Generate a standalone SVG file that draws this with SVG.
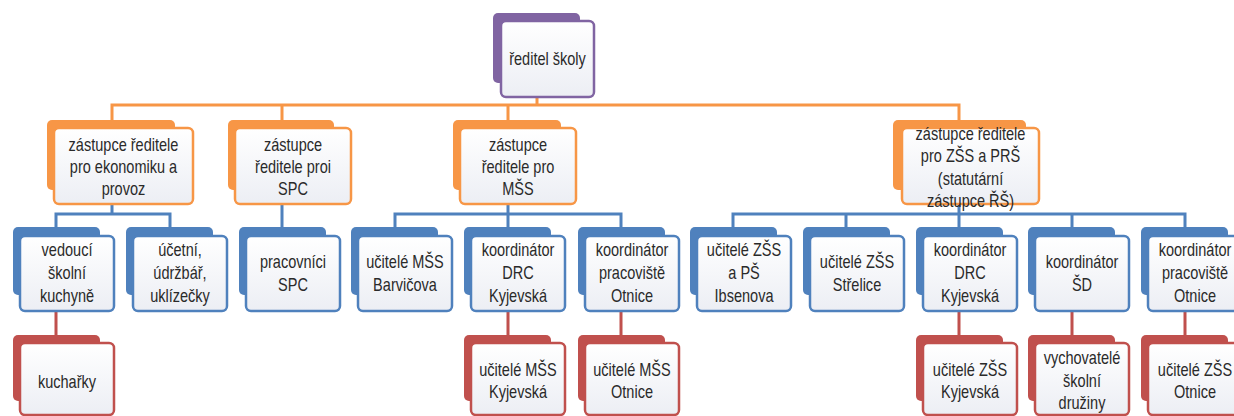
<svg xmlns="http://www.w3.org/2000/svg" width="1234" height="416" viewBox="0 0 1234 416">
<style>
.fr{stroke-width:2.5;fill:url(#g)}
.bk{stroke:none}
.pu{stroke:#8064A2}.puf{fill:#8064A2}
.or{stroke:#F79646}.orf{fill:#F79646}
.bl{stroke:#4F81BD}.blf{fill:#4F81BD}
.rd{stroke:#C0504D}.rdf{fill:#C0504D}
text{font-family:"Liberation Sans",Arial,sans-serif;font-size:17.5px;fill:#2a2a2a;text-anchor:middle}
.c{fill:none;stroke-width:3}
</style>
<defs>
<linearGradient id="g" x1="0" y1="0" x2="0" y2="1"><stop offset="0" stop-color="#ffffff"/><stop offset="1" stop-color="#eceef4"/></linearGradient>
</defs>
<g id="connectors">
<path class="c" stroke="#F79646" d="M537,97V105M112,120V105H959V120M282,105V120M508,105V120"/>
<path class="c" stroke="#4F81BD" d="M112,204V214M56,227V214H170V227M282,204V227M508,204V214M395,227V214H621V227M508,214V227M959,204V214M733,227V214H1185V227M846,214V227M959,214V227M1072,214V227"/>
<path class="c" stroke="#C0504D" d="M56,311V335M508,311V335M621,311V335M959,311V335M1072,311V335M1185,311V335"/>
</g>
<g id="n-top"><rect class="bk puf" x="493" y="13" width="87" height="70" rx="5"/><rect class="fr pu" x="501" y="21" width="93" height="76" rx="5"/><text transform="translate(547.5 0) scale(.83 1)" y="65">ředitel školy</text></g>
<g id="n-ekon"><rect class="bk orf" x="47" y="120" width="128" height="70" rx="5"/><rect class="fr or" x="54" y="128" width="139" height="76" rx="5"/><text transform="translate(123.5 0) scale(.83 1)" y="151">zástupce ředitele</text><text transform="translate(123.5 0) scale(.83 1)" y="173">pro ekonomiku a</text><text transform="translate(123.5 0) scale(.83 1)" y="195">provoz</text></g>
<g id="n-spc"><rect class="bk orf" x="228" y="120" width="106" height="70" rx="5"/><rect class="fr or" x="235" y="128" width="116" height="76" rx="5"/><text transform="translate(293 0) scale(.83 1)" y="151">zástupce</text><text transform="translate(293 0) scale(.83 1)" y="173">ředitele proi</text><text transform="translate(293 0) scale(.83 1)" y="195">SPC</text></g>
<g id="n-mss"><rect class="bk orf" x="453" y="120" width="108" height="70" rx="5"/><rect class="fr or" x="460" y="128" width="116" height="76" rx="5"/><text transform="translate(518 0) scale(.83 1)" y="151">zástupce</text><text transform="translate(518 0) scale(.83 1)" y="173">ředitele pro</text><text transform="translate(518 0) scale(.83 1)" y="195">MŠS</text></g>
<g id="n-zss"><rect class="bk orf" x="893" y="120" width="133" height="70" rx="5"/><rect class="fr or" x="902" y="128" width="137" height="76" rx="5"/><text transform="translate(970.5 0) scale(.83 1)" y="140">zástupce ředitele</text><text transform="translate(970.5 0) scale(.83 1)" y="162">pro ZŠS a PRŠ</text><text transform="translate(970.5 0) scale(.83 1)" y="185">(statutární</text><text transform="translate(970.5 0) scale(.83 1)" y="207">zástupce ŘŠ)</text></g>
<g id="n-kuch"><rect class="bk blf" x="13" y="227" width="87" height="68" rx="5"/><rect class="fr bl" x="20" y="236" width="94" height="75" rx="5"/><text transform="translate(67 0) scale(.83 1)" y="256">vedoucí</text><text transform="translate(67 0) scale(.83 1)" y="279">školní</text><text transform="translate(67 0) scale(.83 1)" y="302">kuchyně</text></g>
<g id="n-ucet"><rect class="bk blf" x="126" y="227" width="87" height="68" rx="5"/><rect class="fr bl" x="133" y="236" width="94" height="75" rx="5"/><text transform="translate(180 0) scale(.83 1)" y="256">účetní,</text><text transform="translate(180 0) scale(.83 1)" y="279">údržbář,</text><text transform="translate(180 0) scale(.83 1)" y="302">uklízečky</text></g>
<g id="n-pspc"><rect class="bk blf" x="239" y="227" width="87" height="68" rx="5"/><rect class="fr bl" x="246" y="236" width="94" height="75" rx="5"/><text transform="translate(293 0) scale(.83 1)" y="268">pracovníci</text><text transform="translate(293 0) scale(.83 1)" y="291">SPC</text></g>
<g id="n-barv"><rect class="bk blf" x="351" y="227" width="87" height="68" rx="5"/><rect class="fr bl" x="358" y="236" width="94" height="75" rx="5"/><text transform="translate(405 0) scale(.83 1)" y="268">učitelé MŠS</text><text transform="translate(405 0) scale(.83 1)" y="291">Barvičova</text></g>
<g id="n-drc1"><rect class="bk blf" x="464" y="227" width="87" height="68" rx="5"/><rect class="fr bl" x="471" y="236" width="94" height="75" rx="5"/><text transform="translate(518 0) scale(.83 1)" y="256">koordinátor</text><text transform="translate(518 0) scale(.83 1)" y="279">DRC</text><text transform="translate(518 0) scale(.83 1)" y="302">Kyjevská</text></g>
<g id="n-otn1"><rect class="bk blf" x="578" y="227" width="87" height="68" rx="5"/><rect class="fr bl" x="585" y="236" width="94" height="75" rx="5"/><text transform="translate(632 0) scale(.83 1)" y="256">koordinátor</text><text transform="translate(632 0) scale(.83 1)" y="279">pracoviště</text><text transform="translate(632 0) scale(.83 1)" y="302">Otnice</text></g>
<g id="n-ibs"><rect class="bk blf" x="690" y="227" width="87" height="68" rx="5"/><rect class="fr bl" x="697" y="236" width="94" height="75" rx="5"/><text transform="translate(744 0) scale(.83 1)" y="256">učitelé ZŠS</text><text transform="translate(744 0) scale(.83 1)" y="279">a PŠ</text><text transform="translate(744 0) scale(.83 1)" y="302">Ibsenova</text></g>
<g id="n-stre"><rect class="bk blf" x="803" y="227" width="87" height="68" rx="5"/><rect class="fr bl" x="810" y="236" width="94" height="75" rx="5"/><text transform="translate(857 0) scale(.83 1)" y="268">učitelé ZŠS</text><text transform="translate(857 0) scale(.83 1)" y="291">Střelice</text></g>
<g id="n-drc2"><rect class="bk blf" x="916" y="227" width="87" height="68" rx="5"/><rect class="fr bl" x="923" y="236" width="94" height="75" rx="5"/><text transform="translate(970 0) scale(.83 1)" y="256">koordinátor</text><text transform="translate(970 0) scale(.83 1)" y="279">DRC</text><text transform="translate(970 0) scale(.83 1)" y="302">Kyjevská</text></g>
<g id="n-sd"><rect class="bk blf" x="1028" y="227" width="87" height="68" rx="5"/><rect class="fr bl" x="1035" y="236" width="94" height="75" rx="5"/><text transform="translate(1082 0) scale(.83 1)" y="268">koordinátor</text><text transform="translate(1082 0) scale(.83 1)" y="291">ŠD</text></g>
<g id="n-otn2"><rect class="bk blf" x="1141" y="227" width="87" height="68" rx="5"/><rect class="fr bl" x="1148" y="236" width="94" height="75" rx="5"/><text transform="translate(1195 0) scale(.83 1)" y="256">koordinátor</text><text transform="translate(1195 0) scale(.83 1)" y="279">pracoviště</text><text transform="translate(1195 0) scale(.83 1)" y="302">Otnice</text></g>
<g id="n-kuchar"><rect class="bk rdf" x="13" y="335" width="87" height="66" rx="5"/><rect class="fr rd" x="20" y="343" width="94" height="72" rx="5"/><text transform="translate(67 0) scale(.83 1)" y="388">kuchařky</text></g>
<g id="n-umky"><rect class="bk rdf" x="464" y="335" width="87" height="66" rx="5"/><rect class="fr rd" x="471" y="343" width="94" height="72" rx="5"/><text transform="translate(518 0) scale(.83 1)" y="376">učitelé MŠS</text><text transform="translate(518 0) scale(.83 1)" y="398">Kyjevská</text></g>
<g id="n-umot"><rect class="bk rdf" x="578" y="335" width="87" height="66" rx="5"/><rect class="fr rd" x="585" y="343" width="94" height="72" rx="5"/><text transform="translate(632 0) scale(.83 1)" y="376">učitelé MŠS</text><text transform="translate(632 0) scale(.83 1)" y="398">Otnice</text></g>
<g id="n-uzky"><rect class="bk rdf" x="916" y="335" width="87" height="66" rx="5"/><rect class="fr rd" x="923" y="343" width="94" height="72" rx="5"/><text transform="translate(970 0) scale(.83 1)" y="376">učitelé ZŠS</text><text transform="translate(970 0) scale(.83 1)" y="398">Kyjevská</text></g>
<g id="n-vych"><rect class="bk rdf" x="1028" y="335" width="87" height="66" rx="5"/><rect class="fr rd" x="1035" y="343" width="94" height="72" rx="5"/><text transform="translate(1082 0) scale(.83 1)" y="364">vychovatelé</text><text transform="translate(1082 0) scale(.83 1)" y="387">školní</text><text transform="translate(1082 0) scale(.83 1)" y="409">družiny</text></g>
<g id="n-uzot"><rect class="bk rdf" x="1141" y="335" width="87" height="66" rx="5"/><rect class="fr rd" x="1148" y="343" width="94" height="72" rx="5"/><text transform="translate(1195 0) scale(.83 1)" y="376">učitelé ZŠS</text><text transform="translate(1195 0) scale(.83 1)" y="398">Otnice</text></g>
</svg>
